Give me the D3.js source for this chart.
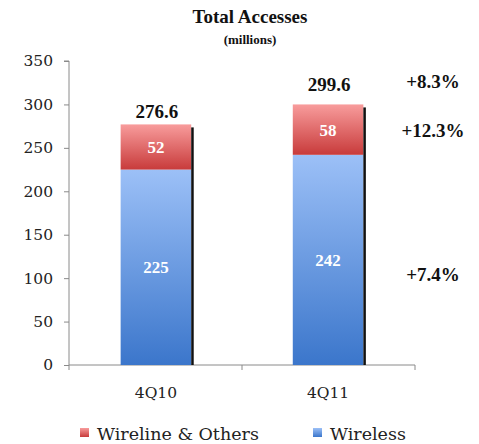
<!DOCTYPE html>
<html>
<head>
<meta charset="utf-8">
<script src="https://cdn.jsdelivr.net/npm/d3@7"></script>
<style>
  body { margin: 0; background: #fff; }
  text { font-family: "Liberation Serif", "DejaVu Serif", serif; }
  text.plain { font-family: "DejaVu Serif", serif; }
</style>
</head>
<body>
<div id="chart"></div>
<script>
// data
var categories = ["4Q10", "4Q11"];
var wireless = [225, 242];
var wireline = [52, 58];
var totals = [276.6, 299.6];
var yTicks = [0, 50, 100, 150, 200, 250, 300, 350];
var growthLabels = ["+8.3%", "+12.3%", "+7.4%"];
var growthAt = [326, 269, 104];   // value on the y axis where each growth note sits
var seriesNames = ["Wireline & Others", "Wireless"];

var width = 479, height = 444;
var margin = { top: 61, left: 69, right: 64, bottom: 79 };
var labelLift = [7, 14];

var svg = d3.select("#chart").append("svg")
    .attr("width", width)
    .attr("height", height);

var defs = svg.append("defs");
var redGrad = defs.append("linearGradient").attr("id", "redGrad")
    .attr("x1", 0).attr("y1", 0).attr("x2", 0).attr("y2", 1);
redGrad.append("stop").attr("offset", "0%").attr("stop-color", "#f89c9c");
redGrad.append("stop").attr("offset", "100%").attr("stop-color", "#c83b3b");
var blueGrad = defs.append("linearGradient").attr("id", "blueGrad")
    .attr("x1", 0).attr("y1", 0).attr("x2", 0).attr("y2", 1);
blueGrad.append("stop").attr("offset", "0%").attr("stop-color", "#9cc0f7");
blueGrad.append("stop").attr("offset", "100%").attr("stop-color", "#3b76cb");

var x = d3.scaleBand()
    .domain(categories)
    .range([margin.left, width - margin.right])
    .paddingInner(0.59)
    .paddingOuter(0.3);

var y = d3.scaleLinear()
    .domain([0, 350])
    .range([height - margin.bottom, margin.top]);

// title
svg.append("text")
    .attr("x", 250).attr("y", 23)
    .attr("text-anchor", "middle")
    .style("font-size", "19px").style("font-weight", "bold")
    .attr("fill", "#111")
    .text("Total Accesses");
svg.append("text")
    .attr("x", 250).attr("y", 44)
    .attr("text-anchor", "middle")
    .style("font-size", "13px").style("font-weight", "bold")
    .attr("fill", "#111")
    .text("(millions)");

// y axis
var yAxis = d3.axisLeft(y).tickValues(yTicks).tickSize(5).tickPadding(11);
var yg = svg.append("g")
    .attr("transform", "translate(" + margin.left + ",0)")
    .call(yAxis);
yg.select(".domain").attr("stroke", "#8a8a8a").attr("d",
    "M-5," + y(350) + "H0V" + y(0));
yg.selectAll(".tick line").attr("stroke", "#8a8a8a");
yg.selectAll(".tick text")
    .attr("class", "plain")
    .attr("fill", "#222")
    .style("font-size", "15.5px");

// x axis
var xLine = d3.scaleLinear().domain([0, 2]).range([margin.left, width - margin.right]);
var xg = svg.append("g")
    .attr("transform", "translate(0," + y(0) + ")");
xg.append("line")
    .attr("x1", xLine(0)).attr("x2", xLine(2))
    .attr("stroke", "#8a8a8a");
xg.selectAll(".xtick")
    .data([0, 1, 2])
    .enter().append("line")
    .attr("x1", function (d) { return xLine(d); })
    .attr("x2", function (d) { return xLine(d); })
    .attr("y1", 0).attr("y2", 5)
    .attr("stroke", "#8a8a8a");
xg.selectAll(".xlabel")
    .data(categories)
    .enter().append("text")
    .attr("class", "plain")
    .attr("x", function (d) { return x(d) + x.bandwidth() / 2; })
    .attr("y", 33)
    .attr("text-anchor", "middle")
    .attr("fill", "#222")
    .style("font-size", "15.5px")
    .text(function (d) { return d; });

// bars
var bars = svg.selectAll(".bar")
    .data(categories)
    .enter().append("g")
    .attr("class", "bar");

bars.append("rect")
    .attr("x", function (d) { return x(d); })
    .attr("y", function (d, i) { return y(wireless[i]); })
    .attr("width", x.bandwidth())
    .attr("height", function (d, i) { return y(0) - y(wireless[i]); })
    .attr("fill", "url(#blueGrad)");

bars.append("rect")
    .attr("x", function (d) { return x(d); })
    .attr("y", function (d, i) { return y(wireless[i] + wireline[i]); })
    .attr("width", x.bandwidth())
    .attr("height", function (d, i) { return y(wireless[i]) - y(wireless[i] + wireline[i]); })
    .attr("fill", "url(#redGrad)");

// dark shadow edge on the right
bars.append("rect")
    .attr("x", function (d) { return x(d) + x.bandwidth(); })
    .attr("y", function (d, i) { return y(wireless[i] + wireline[i]) + 3; })
    .attr("width", 2.5)
    .attr("height", function (d, i) { return y(0) - y(wireless[i] + wireline[i]) - 3; })
    .attr("fill", "#111");

// segment labels
bars.append("text")
    .attr("x", function (d) { return x(d) + x.bandwidth() / 2; })
    .attr("y", function (d, i) { return y(wireless[i] / 2) + 6; })
    .attr("text-anchor", "middle")
    .attr("fill", "#fff")
    .style("font-size", "17px").style("font-weight", "bold")
    .text(function (d, i) { return wireless[i]; });

bars.append("text")
    .attr("x", function (d) { return x(d) + x.bandwidth() / 2; })
    .attr("y", function (d, i) { return y(wireless[i] + wireline[i] / 2) + 6; })
    .attr("text-anchor", "middle")
    .attr("fill", "#fff")
    .style("font-size", "17px").style("font-weight", "bold")
    .text(function (d, i) { return wireline[i]; });

// totals
bars.append("text")
    .attr("x", function (d) { return x(d) + x.bandwidth() / 2 + 1; })
    .attr("y", function (d, i) { return y(totals[i]) - labelLift[i]; })
    .attr("text-anchor", "middle")
    .attr("fill", "#111")
    .style("font-size", "19px").style("font-weight", "bold")
    .text(function (d, i) { return totals[i]; });

// growth notes
svg.selectAll(".growth")
    .data(growthLabels)
    .enter().append("text")
    .attr("x", 433)
    .attr("y", function (d, i) { return y(growthAt[i]) + 6; })
    .attr("text-anchor", "middle")
    .attr("fill", "#111")
    .style("font-size", "19px").style("font-weight", "bold")
    .text(function (d) { return d; });

// legend
var legendX = [80, 313];
var legendFill = ["url(#redGrad)", "url(#blueGrad)"];
var legend = svg.selectAll(".legend")
    .data(seriesNames)
    .enter().append("g")
    .attr("transform", function (d, i) { return "translate(" + legendX[i] + ",428)"; });
legend.append("rect")
    .attr("width", 9).attr("height", 9)
    .attr("fill", function (d, i) { return legendFill[i]; });
legend.append("text")
    .attr("class", "plain")
    .attr("x", 17).attr("y", 12)
    .attr("fill", "#222")
    .style("font-size", "17.5px")
    .text(function (d) { return d; });
</script>
</body>
</html>
